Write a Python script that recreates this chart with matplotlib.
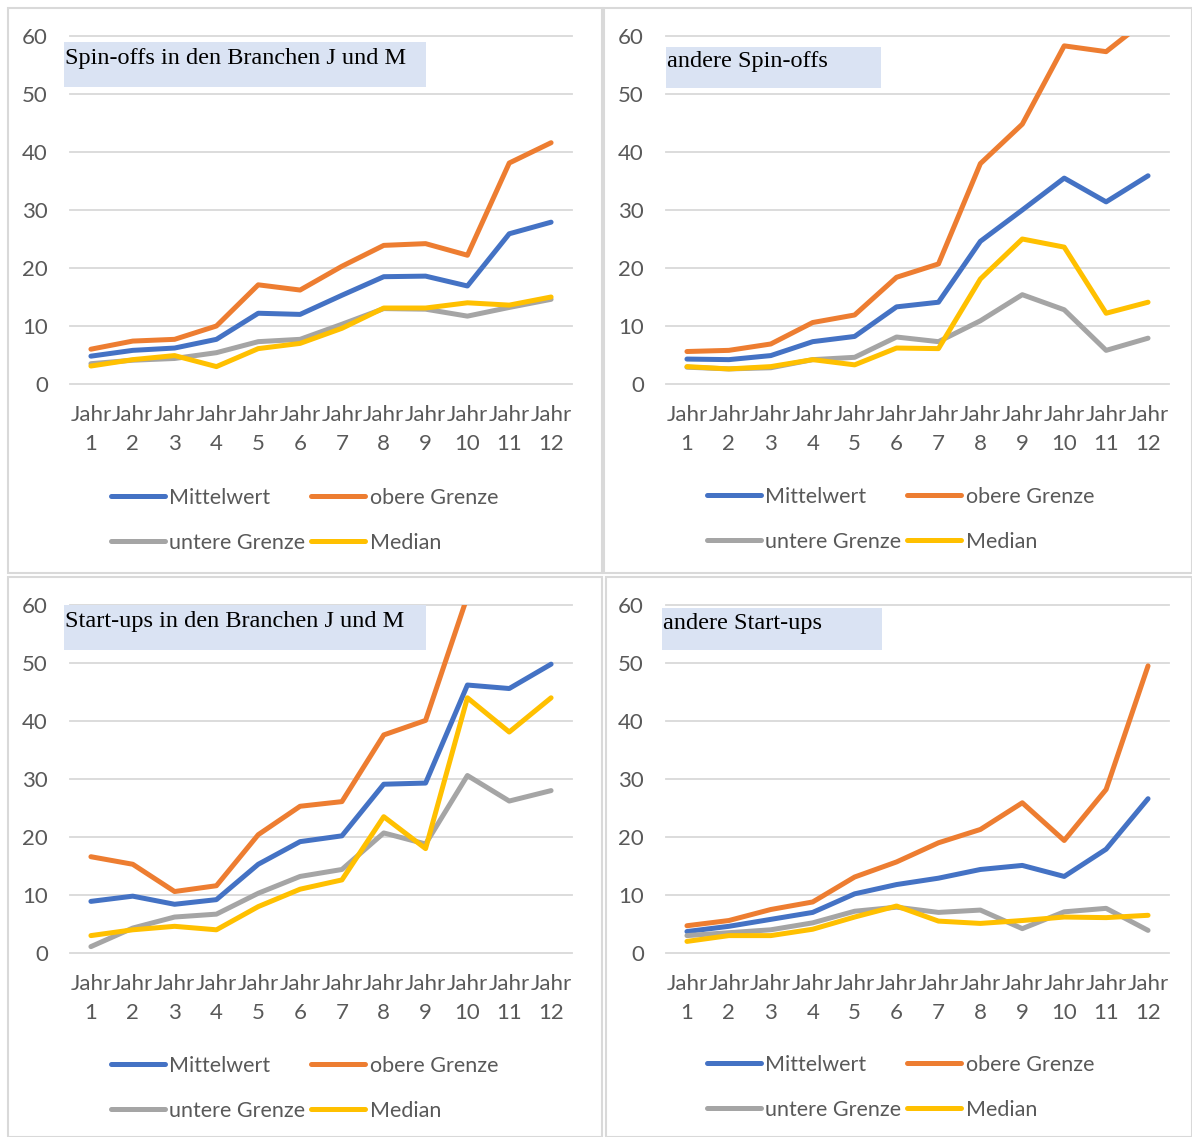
import matplotlib
matplotlib.use("Agg")
import matplotlib.pyplot as plt
from matplotlib.patches import Rectangle

W, H = 1192, 1137

years = [f"Jahr\n{i}" for i in range(1, 13)]
series_names = ["Mittelwert", "obere Grenze", "untere Grenze", "Median"]
colors = ["#4472C4", "#ED7D31", "#A5A5A5", "#FFC000"]

# Spin-offs in den Branchen J und M
so_jm_mean = [4.8, 5.8, 6.2, 7.7, 12.2, 12.0, 15.3, 18.5, 18.6, 16.9, 25.9, 27.9]
so_jm_upper = [6.0, 7.4, 7.7, 10.0, 17.1, 16.2, 20.3, 23.9, 24.2, 22.2, 38.1, 41.6]
so_jm_lower = [3.5, 4.1, 4.4, 5.4, 7.3, 7.7, 10.3, 13.0, 12.9, 11.7, 13.2, 14.6]
so_jm_median = [3.1, 4.2, 4.9, 3.0, 6.1, 7.0, 9.6, 13.1, 13.1, 14.0, 13.6, 15.0]

# andere Spin-offs
so_other_mean = [4.3, 4.2, 4.9, 7.3, 8.2, 13.3, 14.1, 24.6, 30.0, 35.5, 31.4, 35.9]
so_other_upper = [5.6, 5.8, 6.9, 10.6, 11.9, 18.4, 20.7, 38.0, 44.8, 58.3, 57.3, 63.0]
so_other_lower = [2.9, 2.6, 2.8, 4.2, 4.6, 8.1, 7.3, 10.9, 15.4, 12.8, 5.8, 7.9]
so_other_median = [3.0, 2.6, 3.0, 4.2, 3.3, 6.2, 6.1, 18.1, 25.0, 23.6, 12.2, 14.1]

# Start-ups in den Branchen J und M
su_jm_mean = [8.9, 9.8, 8.4, 9.2, 15.3, 19.2, 20.2, 29.1, 29.3, 46.2, 45.6, 49.8]
su_jm_upper = [16.6, 15.3, 10.6, 11.6, 20.4, 25.3, 26.1, 37.6, 40.1, 61.5, None, None]
su_jm_lower = [1.1, 4.3, 6.2, 6.7, 10.3, 13.2, 14.4, 20.7, 18.8, 30.6, 26.2, 28.0]
su_jm_median = [3.0, 4.0, 4.6, 4.0, 8.0, 11.0, 12.6, 23.5, 18.0, 44.0, 38.1, 44.0]

# andere Start-ups
su_other_mean = [3.7, 4.6, 5.8, 7.0, 10.2, 11.8, 12.9, 14.4, 15.1, 13.2, 17.9, 26.6]
su_other_upper = [4.7, 5.6, 7.5, 8.8, 13.1, 15.7, 19.0, 21.3, 25.9, 19.4, 28.2, 49.5]
su_other_lower = [3.0, 3.5, 4.0, 5.2, 7.2, 7.9, 7.0, 7.4, 4.2, 7.1, 7.7, 3.9]
su_other_median = [2.0, 3.0, 3.0, 4.1, 6.2, 8.1, 5.5, 5.1, 5.6, 6.2, 6.1, 6.5]

titles = ["Spin-offs in den Branchen J und M", "andere Spin-offs",
          "Start-ups in den Branchen J und M", "andere Start-ups"]
panel_data = [
    [so_jm_mean, so_jm_upper, so_jm_lower, so_jm_median],
    [so_other_mean, so_other_upper, so_other_lower, so_other_median],
    [su_jm_mean, su_jm_upper, su_jm_lower, su_jm_median],
    [su_other_mean, su_other_upper, su_other_lower, su_other_median],
]

# layout in pixels: panel frame, plot area, title box
frames = [(8, 8, 602, 573), (604, 8, 1192, 573), (8, 577, 602, 1137), (606, 577, 1192, 1137)]
plot_areas = [(70, 36, 572, 384), (666, 36, 1169, 384), (70, 605, 572, 953), (666, 605, 1169, 953)]
title_boxes = [(64, 42, 426, 87), (666, 47, 881, 88), (64, 605, 426, 650), (662, 608, 882, 650)]
legend_pos = [(100, 477), (696, 476), (100, 1045), (696, 1044)]

text_color = "#595959"
grid_color = "#D9D9D9"
sans = ["Lato", "DejaVu Sans"]
serif = ["Liberation Serif", "DejaVu Serif"]


def fx(x):
    return x / W


def fy(y):
    return 1 - y / H


fig = plt.figure(figsize=(W / 100, H / 100), dpi=100)

for (x0, y0, x1, y1) in frames:
    fig.patches.append(Rectangle((fx(x0), fy(y1)), fx(x1 - x0), (y1 - y0) / H,
                                 transform=fig.transFigure, fill=False,
                                 edgecolor=grid_color, linewidth=1.5))

x = list(range(1, 13))
for k in range(4):
    x0, y0, x1, y1 = plot_areas[k]
    ax = fig.add_axes([fx(x0), fy(y1), fx(x1 - x0), (y1 - y0) / H])
    lines = []
    for vals, name, c in zip(panel_data[k], series_names, colors):
        yv = [v if v is not None else float("nan") for v in vals]
        ln, = ax.plot(x, yv, color=c, linewidth=3.6, solid_capstyle="round",
                      solid_joinstyle="round", label=name)
        lines.append(ln)
    ax.set_xlim(0.5, 12.5)
    ax.set_ylim(0, 60)
    ax.set_yticks(range(0, 61, 10))
    ax.set_xticks(x)
    ax.set_xticklabels(years, linespacing=1.55)
    ax.grid(axis="y", color=grid_color, linewidth=1.3)
    for gl in ax.get_ygridlines():
        gl.set_clip_on(False)
    ax.set_axisbelow(True)
    for s in ax.spines.values():
        s.set_visible(False)
    ax.tick_params(length=0, labelcolor=text_color, labelsize=16)
    ax.tick_params(axis="y", pad=16)
    ax.tick_params(axis="x", pad=15)
    for lab in ax.get_xticklabels() + ax.get_yticklabels():
        lab.set_family(sans)

    # title box
    bx0, by0, bx1, by1 = title_boxes[k]
    fig.patches.append(Rectangle((fx(bx0), fy(by1)), fx(bx1 - bx0), (by1 - by0) / H,
                                 transform=fig.transFigure, facecolor="#DAE3F3",
                                 edgecolor="none", zorder=5))
    fig.text(fx(bx0 + 1), fy((by0 + by1) / 2 - 6), titles[k], family=serif,
             fontsize=17.5, color="black", va="center", ha="left", zorder=6)

    # legend filled by rows like Excel: reorder for column-wise filling
    order = [0, 2, 1, 3]
    lx, ly = legend_pos[k]
    leg = ax.legend([lines[i] for i in order], [series_names[i] for i in order],
                    loc="upper left", bbox_to_anchor=(fx(lx), fy(ly)),
                    bbox_transform=fig.transFigure, ncol=2, frameon=False,
                    handlelength=2.5, handletextpad=0.2,
                    columnspacing=0.3, labelspacing=1.15, borderpad=0,
                    prop={"family": sans, "size": 15.5})
    for t in leg.get_texts():
        t.set_color(text_color)

fig.savefig("out.png", dpi=100)
